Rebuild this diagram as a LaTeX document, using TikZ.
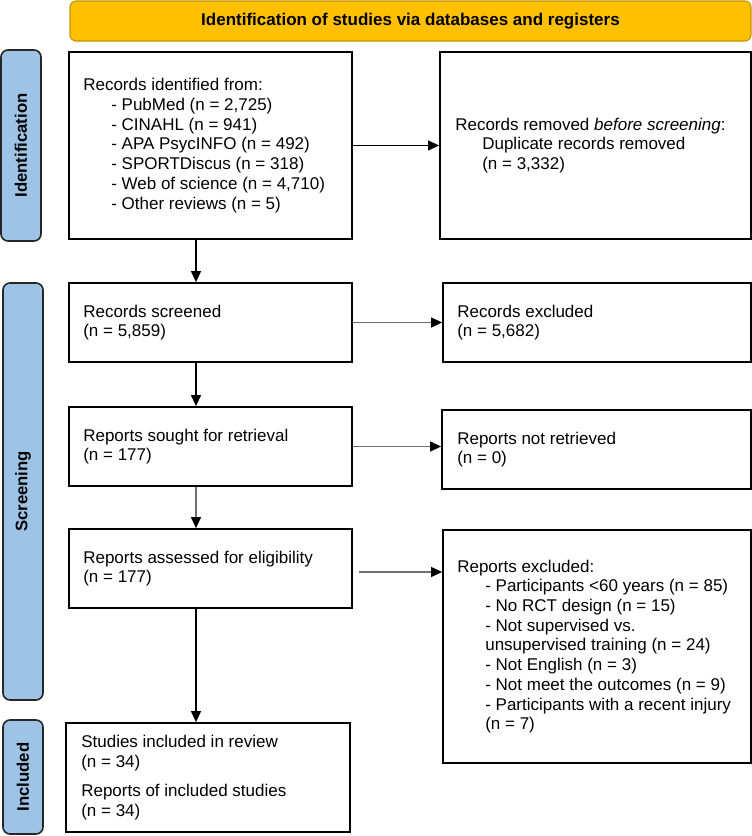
\documentclass[tikz,border=0pt]{standalone}
\usepackage{fontspec}
\setmainfont{Liberation Sans}
\usetikzlibrary{arrows.meta}
\definecolor{hdr}{HTML}{FFC000}
\definecolor{hdrline}{HTML}{C29400}
\definecolor{sidefill}{HTML}{9DC3E6}
\definecolor{arrgray}{HTML}{6E6E6E}
\begin{document}
\begin{tikzpicture}[x=1pt,y=-1pt,
  box/.style={draw=black, line width=1.8pt, inner sep=0pt},
  txt/.style={anchor=west, align=left, inner sep=0pt, font=\fontsize{17}{19.7}\selectfont},
  sidelabel/.style={draw=black!85, line width=1.6pt, fill=sidefill, rounded corners=7pt,
    rotate=90, minimum height=40pt, inner sep=0pt, font=\bfseries\fontsize{16.7}{18}\selectfont},
  header/.style={draw=hdrline, line width=1.1pt, fill=hdr, rounded corners=6pt,
    minimum width=681pt, minimum height=40pt, inner sep=0pt, font=\bfseries\fontsize{17}{19}\selectfont},
  arr/.style={line width=1.2pt, draw=black, -{Triangle[length=11pt,width=10pt,color=black]}},
  garr/.style={arr, draw=arrgray}
]
\path[use as bounding box, fill=white] (0,0) rectangle (752,836);

% header
\node[header] (hd) at (410.5,21) {Identification of studies via databases and registers};

% side labels
\node[sidelabel, minimum width=191pt] (sid) at (21,145.5) {Identification};
\node[sidelabel, minimum width=417pt] (ssc) at (23,491.5) {Screening};
\node[sidelabel, minimum width=114pt] (sin) at (23,777) {Included};

% left column boxes
\node[box, minimum width=283pt, minimum height=187pt] (b1) at (210.5,145.5) {};
\node[txt] (t1) at ([xshift=15pt]b1.west) {Records identified from:\\
\hspace*{28pt}- PubMed (n = 2,725)\\
\hspace*{28pt}- CINAHL (n = 941)\\
\hspace*{28pt}- APA PsycINFO (n = 492)\\
\hspace*{28pt}- SPORTDiscus (n = 318)\\
\hspace*{28pt}- Web of science (n = 4,710)\\
\hspace*{28pt}- Other reviews (n = 5)};

\node[box, minimum width=283pt, minimum height=79pt] (b2) at (210.5,322.5) {};
\node[txt] (t2) at ([xshift=15pt]b2.west) {Records screened\\(n = 5,859)};

\node[box, minimum width=283pt, minimum height=79pt] (b3) at (210.5,446.5) {};
\node[txt] (t3) at ([xshift=15pt]b3.west) {Reports sought for retrieval\\(n = 177)};

\node[box, minimum width=283pt, minimum height=79pt] (b4) at (210.5,568.5) {};
\node[txt] (t4) at ([xshift=15pt]b4.west) {Reports assessed for eligibility\\(n = 177)};

\node[box, minimum width=284pt, minimum height=109pt] (b5) at (208,777.5) {};
\node[txt] (t5) at ([xshift=16pt]b5.west) {Studies included in review\\(n = 34)\\[10pt]
Reports of included studies\\(n = 34)};

% right column boxes
\node[box, minimum width=311pt, minimum height=187pt] (r1) at (595.5,145.5) {};
\node[txt] (u1) at ([xshift=16pt]r1.west) {Records removed \textit{before screening}:\\
\hspace*{27pt}Duplicate records removed\\
\hspace*{27pt}(n = 3,332)};

\node[box, minimum width=308pt, minimum height=79pt] (r2) at (597,322.5) {};
\node[txt] (u2) at ([xshift=15pt]r2.west) {Records excluded\\(n = 5,682)};

\node[box, minimum width=309pt, minimum height=79pt] (r3) at (596.5,449.5) {};
\node[txt] (u3) at ([xshift=16pt]r3.west) {Reports not retrieved\\(n = 0)};

\node[box, minimum width=308pt, minimum height=233pt] (r4) at (597,646.5) {};
\node[txt] (u4) at ([xshift=15pt]r4.west) {Reports excluded:\\
\hspace*{28pt}- Participants <60 years (n = 85)\\
\hspace*{28pt}- No RCT design (n = 15)\\
\hspace*{28pt}- Not supervised vs.\\
\hspace*{28pt}unsupervised training (n = 24)\\
\hspace*{28pt}- Not English (n = 3)\\
\hspace*{28pt}- Not meet the outcomes (n = 9)\\
\hspace*{28pt}- Participants with a recent injury\\
\hspace*{28pt}(n = 7)};

% connectors
\coordinate (vx) at (196,0);
\draw[arr] (b1.east) -- (r1.west);
\draw[arr] (b1.south -| vx) -- (b2.north -| vx);
\draw[garr] (b2.east) -- (r2.west);
\draw[arr] (b2.south -| vx) -- (b3.north -| vx);
\draw[garr] (b3.east) -- (b3.east -| r3.west);
\draw[garr] (b3.south -| vx) -- (b4.north -| vx);
\draw[garr] ([xshift=6pt,yshift=-3.5pt]b4.east) -- ([yshift=-3.5pt]b4.east -| r4.west);
\draw[arr] (b4.south -| vx) -- (b5.north -| vx);
\end{tikzpicture}
\end{document}
